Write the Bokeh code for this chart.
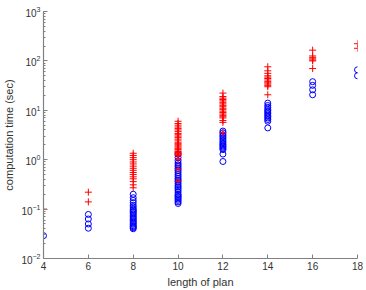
from bokeh.plotting import figure
from bokeh.models import Range1d, FixedTicker
from bokeh.embed import file_html
from bokeh.resources import INLINE

# plan length -> computation times (sec)
red_y4 = [0.1]
blue_y4 = [0.029]

red_y6 = [0.22, 0.14]
blue_y6 = [0.078, 0.063, 0.05, 0.041]

red_y8 = [1.35, 1.22, 1.1, 1.0, 0.9, 0.82, 0.74, 0.67, 0.61, 0.55, 0.5, 0.45,
          0.41, 0.36, 0.31, 0.27]
blue_y8 = [0.2, 0.17, 0.15, 0.135, 0.12, 0.11, 0.1, 0.095, 0.09, 0.085, 0.08,
           0.075, 0.07, 0.066, 0.062, 0.058, 0.055, 0.052, 0.049, 0.046,
           0.044, 0.042, 0.04]

red_y10 = [6.0, 5.4, 5.0, 4.6, 4.3, 4.0, 3.7, 3.4, 3.2, 3.0, 2.8, 2.6, 2.4,
           2.2, 2.1, 2.0, 1.9, 1.8, 1.7, 1.6, 1.5, 1.45, 1.4, 1.35, 1.3,
           1.25, 1.2, 1.0, 0.64, 0.37]
blue_y10 = [1.3, 1.1, 0.95, 0.85, 0.78, 0.72, 0.66, 0.6, 0.55, 0.5, 0.46,
            0.42, 0.39, 0.36, 0.33, 0.3, 0.28, 0.26, 0.24, 0.22, 0.2, 0.19,
            0.18, 0.17, 0.16, 0.15, 0.14, 0.13]

red_y12 = [22.3, 19.0, 17.6, 16.5, 15.5, 14.5, 13.5, 12.6, 11.8, 11.0, 10.3,
           9.6, 9.0, 8.4, 7.9, 7.4, 7.0, 6.2, 5.7, 3.5]
blue_y12 = [3.8, 3.5, 3.2, 3.0, 2.8, 2.6, 2.4, 2.25, 2.1, 2.0, 1.9, 1.8, 1.7,
            1.6, 1.3, 0.92]

red_y14 = [76, 63, 56, 50, 47, 44, 41, 38, 36, 34, 32, 30, 20.6]
blue_y14 = [14, 12.5, 11.5, 10.5, 9.8, 9.2, 8.6, 8.0, 7.5, 7.0, 6.5, 6.0, 4.4]

red_y16 = [165, 126, 118, 110, 104, 100, 70]
blue_y16 = [38, 32, 26, 20.6]

red_y18 = [223, 180]
blue_y18 = [66, 50]

plan_lengths = [4, 6, 8, 10, 12, 14, 16, 18]
red_groups = [red_y4, red_y6, red_y8, red_y10, red_y12, red_y14, red_y16, red_y18]
blue_groups = [blue_y4, blue_y6, blue_y8, blue_y10, blue_y12, blue_y14, blue_y16, blue_y18]

x_label = "length of plan"
y_label = "computation time (sec)"

rx, ry, bx, by = [], [], [], []
for L, rg, bg in zip(plan_lengths, red_groups, blue_groups):
    rx += [L] * len(rg)
    ry += rg
    bx += [L] * len(bg)
    by += bg

p = figure(width=366, height=290, y_axis_type="log",
           x_range=Range1d(4, 18), y_range=Range1d(0.01, 1000),
           output_backend="svg", toolbar_location=None,
           min_border_left=41, min_border_right=9,
           min_border_top=11, min_border_bottom=30)
p.outline_line_color = None
p.grid.visible = False
p.background_fill_color = "white"

p.scatter(bx, by, marker="circle", size=6, fill_color=None,
          line_color="#0000ff", line_width=1)
p.scatter(rx, ry, marker="cross", size=7, line_color="#ff0000", line_width=1)

for ax in (p.xaxis[0], p.yaxis[0]):
    ax.axis_line_color = "#808080"
    ax.axis_line_width = 1.2
    ax.major_tick_line_color = "#808080"
    ax.minor_tick_line_color = "#808080"
    ax.major_tick_in = 4
    ax.major_tick_out = 0
    ax.minor_tick_in = 2
    ax.minor_tick_out = 0
    ax.major_label_text_font = "Liberation Sans"
    ax.major_label_text_font_size = "10px"
    ax.major_label_text_color = "#333333"
    ax.major_label_standoff = 3
    ax.axis_label_text_font = "Liberation Sans"
    ax.axis_label_text_font_size = "11px"
    ax.axis_label_text_font_style = "normal"
    ax.axis_label_text_color = "#333333"
    ax.axis_label_standoff = 3

p.xaxis.ticker = FixedTicker(ticks=plan_lengths)
p.xaxis.minor_tick_line_color = None
p.xaxis.axis_label = x_label
p.yaxis.axis_label = y_label

open("out.html", "w").write(file_html(p, INLINE))
